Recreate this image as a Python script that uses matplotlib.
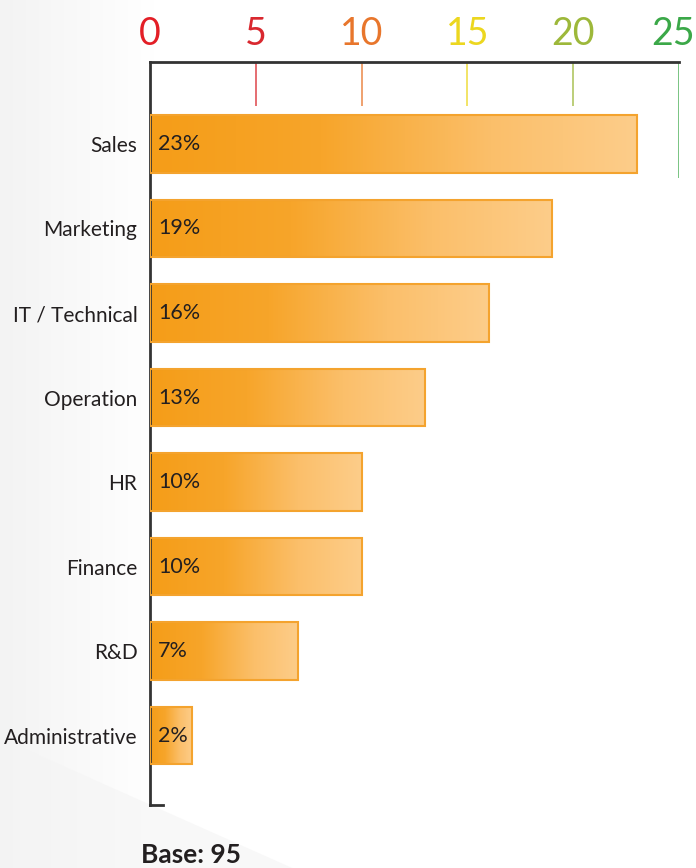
import numpy as np
import matplotlib.pyplot as plt
from matplotlib.colors import LinearSegmentedColormap
from matplotlib.patches import Polygon

# departamentos e percentuais
departments = ["Sales", "Marketing", "IT / Technical", "Operation", "HR",
               "Finance", "R&D", "Administrative"]
percents = [23, 19, 16, 13, 10, 10, 7, 2]
tick_values = [0, 5, 10, 15, 20, 25]
tick_colors = ["#e31e26", "#d9282f", "#e8762c", "#ecd71f", "#9db83a", "#3ba848"]
base_text = "Base: 95"

plt.rcParams['font.family'] = ['Lato', 'DejaVu Sans']

fig = plt.figure(figsize=(6.96, 8.68), dpi=100)
fig.patch.set_facecolor("white")

# fundo cinza suave à esquerda
bg = fig.add_axes([0, 0, 1, 1], zorder=-10)
bg.set_xlim(0, 1)
bg.set_ylim(0, 1)
bg.axis("off")
grad = np.linspace(0, 1, 256).reshape(1, -1)
bg_cmap = LinearSegmentedColormap.from_list("bg", ["#f3f3f3", "#ffffff"])
bg.imshow(grad, extent=[0, 0.22, 0, 1], aspect="auto", cmap=bg_cmap)
bg.add_patch(Polygon([[0, 0.0], [0, 0.15], [0.42, 0.0]], closed=True,
                     facecolor="#f4f4f4", edgecolor="none", alpha=0.6))

ax = fig.add_axes([0.2155, 0.0726, 0.760, 0.856])
ax.set_facecolor("none")
y = np.arange(len(departments))
bar_h = 0.68
ax.set_xlim(0, 25)
ax.set_ylim(7.82, -0.97)

bar_cmap = LinearSegmentedColormap.from_list(
    "bar", [(0, "#f59d18"), (0.35, "#f7a52a"), (0.7, "#fbbf6a"), (1, "#fdcd8a")])
gradient = np.linspace(0, 1, 256).reshape(1, -1)

bars = ax.barh(y, percents, height=bar_h, color="none",
               edgecolor="#f4a32e", linewidth=1.5, zorder=3)
for bar, val, yy in zip(bars, percents, y):
    img = ax.imshow(gradient, extent=[0, val, yy + bar_h / 2, yy - bar_h / 2],
                    aspect="auto", cmap=bar_cmap, zorder=2)
    img.set_clip_path(bar)
    ax.text(0.38, yy, f"{val}%", va="center", ha="left", fontsize=15.5,
            color="#231f20", zorder=4)

# rótulos do eixo y
ax.set_yticks(y)
ax.set_yticklabels(departments, fontsize=15, color="#231f20")
ax.tick_params(axis="y", length=0, pad=9)

# escala colorida no topo (texto próprio, o "25" vai um pouco para dentro)
ax.set_xticks([])
for t, c in zip(tick_values, tick_colors):
    dx = -6 if t == 25 else 0
    ax.annotate(str(t), xy=(t, 1), xycoords=("data", "axes fraction"),
                xytext=(dx, 10), textcoords="offset pixels",
                ha="center", va="bottom", fontsize=27, color=c,
                annotation_clip=False)

for s in ["right", "bottom"]:
    ax.spines[s].set_visible(False)
ax.spines["left"].set_color("#333333")
ax.spines["left"].set_linewidth(2)
ax.spines["top"].set_color("#333333")
ax.spines["top"].set_linewidth(2)

# marcas verticais que descem do topo
for t, c in zip(tick_values[1:], tick_colors[1:]):
    end = 0.4 if t == 25 else -0.45
    ax.plot([t, t], [-0.97, end], color=c, lw=1.2,
            alpha=0.8, zorder=1, solid_capstyle="butt")

# pé do eixo
ax.plot([0, 0.6], [7.82, 7.82], color="#333333", lw=2, clip_on=False)

fig.text(0.275, 0.006, base_text, ha="center", va="baseline", fontsize=19,
         fontweight="bold", color="#231f20")

fig.savefig("out.png", dpi=100)
